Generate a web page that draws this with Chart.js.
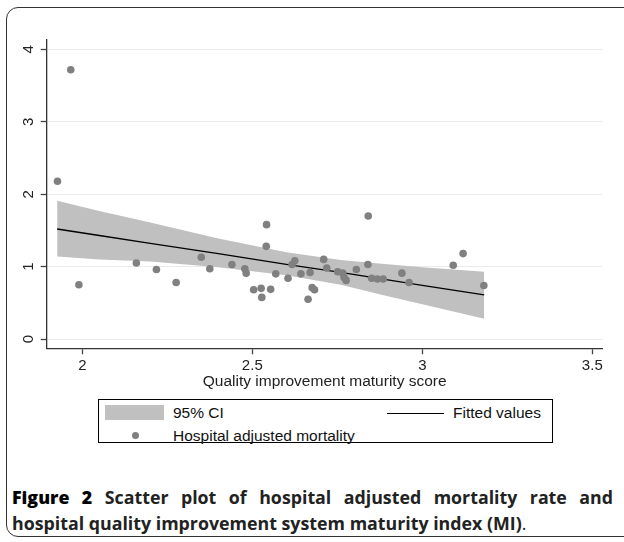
<!DOCTYPE html>
<html>
<head>
<meta charset="utf-8">
<script src="https://cdn.jsdelivr.net/npm/chart.js@4"></script>
<style>
  html, body { margin: 0; padding: 0; background: #fff; }
  body { width: 624px; height: 542px; position: relative; overflow: hidden; font-family: "Liberation Sans", Arial, sans-serif; }
  #frame { position: absolute; left: 6px; top: 7px; width: 700px; height: 530px; border: 1.5px solid #333; border-radius: 12px; box-sizing: border-box; }
  #chartBox { position: absolute; left: 0; top: 0; width: 624px; height: 392px; }
  #legend { position: absolute; left: 98px; top: 399px; width: 455px; height: 44px; border: 1px solid #000; box-sizing: border-box; font-size: 15.5px; color: #111; }
  #legend .sw { position: absolute; left: 6px; top: 5px; width: 59px; height: 15px; background: #c0c0c0; }
  #legend .ln { position: absolute; left: 288px; top: 13px; width: 57px; height: 1px; background: #000; }
  #legend .dot { position: absolute; left: 33px; top: 32px; width: 7px; height: 7px; border-radius: 50%; background: #808080; }
  #legend span { position: absolute; line-height: 16px; }
  #caption { position: absolute; left: 12px; top: 484px; width: 601px; font-family: "Open Sans", "Noto Sans", sans-serif; font-size: 17.8px; line-height: 26px; font-weight: bold; color: #222; }
  #caption .l1 { text-align: justify; text-align-last: justify; white-space: nowrap; }
  #caption b { color: #000; }
  #caption .end { font-weight: normal; }
</style>
</head>
<body>
<div id="frame"></div>
<div id="chartBox"><canvas id="myChart" width="624" height="392"></canvas></div>
<div id="legend">
  <div class="sw"></div><span style="left:74px; top:5px;">95% CI</span>
  <div class="ln"></div><span style="left:354px; top:5px;">Fitted values</span>
  <div class="dot"></div><span style="left:74px; top:28px;">Hospital adjusted mortality</span>
</div>
<div id="caption">
  <div class="l1"><b>Figure 2</b> Scatter plot of hospital adjusted mortality rate and</div>
  <div>hospital quality improvement system maturity index (MI)<span class="end">.</span></div>
</div>
<script>
// Hospitals: quality improvement maturity score vs adjusted mortality
const scoreX = [1.927, 1.966, 1.99, 2.159, 2.218, 2.276, 2.35, 2.375, 2.44, 2.478, 2.482,
  2.542, 2.541, 2.504, 2.526, 2.528, 2.554, 2.569, 2.605, 2.617, 2.625, 2.643, 2.670,
  2.664, 2.676, 2.683, 2.71, 2.719, 2.751, 2.766, 2.77, 2.776, 2.806, 2.841, 2.840,
  2.851, 2.868, 2.885, 2.94, 2.961, 3.091, 3.12, 3.181];
const mortality = [2.18, 3.72, 0.75, 1.05, 0.96, 0.78, 1.13, 0.97, 1.03, 0.97, 0.91,
  1.58, 1.28, 0.68, 0.70, 0.575, 0.686, 0.90, 0.84, 1.03, 1.08, 0.90, 0.92,
  0.55, 0.71, 0.68, 1.10, 0.98, 0.93, 0.91, 0.85, 0.81, 0.96, 1.70, 1.03,
  0.84, 0.83, 0.83, 0.91, 0.78, 1.02, 1.18, 0.74];

// Fitted line and 95% CI band
const fitX = [1.926, 2.05, 2.2, 2.4, 2.6, 2.76, 2.88, 3.0, 3.182];
const fitted = [1.52, 1.43, 1.32, 1.18, 1.03, 0.92, 0.83, 0.74, 0.61];
const ciUpper = [1.91, 1.77, 1.61, 1.39, 1.20, 1.09, 1.04, 0.99, 0.93];
const ciLower = [1.14, 1.10, 1.07, 0.99, 0.88, 0.75, 0.61, 0.48, 0.28];

// Axis ticks
const xTicks = [2, 2.5, 3, 3.5];
const xTickLabels = ["2", "2.5", "3", "3.5"];
const yTicks = [0, 1, 2, 3, 4];
const yTickLabels = ["0", "1", "2", "3", "4"];

const toPoints = (xs, ys) => xs.map((x, i) => ({ x: x, y: ys[i] }));

Chart.defaults.font.family = '"Liberation Sans", Arial, sans-serif';
Chart.defaults.color = "#222";

// Stata-style rotated y tick labels
const rotatedYLabels = {
  id: "rotatedYLabels",
  afterDraw(chart) {
    const ctx = chart.ctx;
    const yScale = chart.scales.y;
    ctx.save();
    ctx.font = '15px "Liberation Sans", Arial, sans-serif';
    ctx.fillStyle = "#222";
    ctx.textAlign = "center";
    ctx.textBaseline = "middle";
    yTicks.forEach((v, i) => {
      const py = yScale.getPixelForValue(v);
      ctx.save();
      ctx.translate(28.5, py);
      ctx.rotate(-Math.PI / 2);
      ctx.fillText(yTickLabels[i], 0, 0);
      ctx.restore();
    });
    ctx.restore();
  }
};

const ctx = document.getElementById("myChart").getContext("2d");
const myChart = new Chart(ctx, {
  type: "scatter",
  data: {
    datasets: [
      {
        label: "Hospital adjusted mortality",
        data: toPoints(scoreX, mortality),
        backgroundColor: "#808080",
        borderWidth: 0,
        pointRadius: 3.8,
        order: 0
      },
      {
        label: "Fitted values",
        type: "line",
        data: toPoints(fitX, fitted),
        borderColor: "#000",
        borderWidth: 1.3,
        pointRadius: 0,
        fill: false,
        order: 1
      },
      {
        label: "95% CI",
        type: "line",
        data: toPoints(fitX, ciUpper),
        borderColor: "rgba(0,0,0,0)",
        backgroundColor: "#c0c0c0",
        pointRadius: 0,
        fill: "+1",
        order: 2
      },
      {
        label: "95% CI lower",
        type: "line",
        data: toPoints(fitX, ciLower),
        borderColor: "rgba(0,0,0,0)",
        pointRadius: 0,
        fill: false,
        order: 3
      }
    ]
  },
  options: {
    responsive: false,
    animation: false,
    layout: { padding: { top: 39.3, right: 21.3, left: 0, bottom: 0 } },
    plugins: { legend: { display: false }, tooltip: { enabled: false } },
    scales: {
      x: {
        type: "linear",
        min: 1.8953,
        max: 3.5306,
        afterBuildTicks: (scale) => { scale.ticks = xTicks.map(v => ({ value: v })); },
        afterFit: (scale) => { scale.height = 43.7; },
        ticks: {
          font: { size: 15 },
          color: "#222",
          padding: 3,
          maxRotation: 0,
          callback: (v) => xTickLabels[xTicks.indexOf(v)]
        },
        grid: { drawOnChartArea: false, drawTicks: true, tickLength: 6, tickColor: "#444", tickWidth: 1.3 },
        border: { display: true, color: "#333", width: 1.3 },
        title: {
          display: true,
          text: "Quality improvement maturity score",
          font: { size: 15.5 },
          color: "#222",
          padding: { top: 0, bottom: 1 }
        }
      },
      y: {
        type: "linear",
        min: -0.128,
        max: 4.14,
        afterBuildTicks: (scale) => { scale.ticks = yTicks.map(v => ({ value: v })); },
        afterFit: (scale) => { scale.width = 46.7; },
        ticks: { display: false },
        grid: { color: "#ebebeb", lineWidth: 1, drawTicks: true, tickLength: 6, tickColor: "#444", tickWidth: 1.3 },
        border: { display: true, color: "#333", width: 1.3 }
      }
    }
  },
  plugins: [rotatedYLabels]
});
</script>
</body>
</html>
